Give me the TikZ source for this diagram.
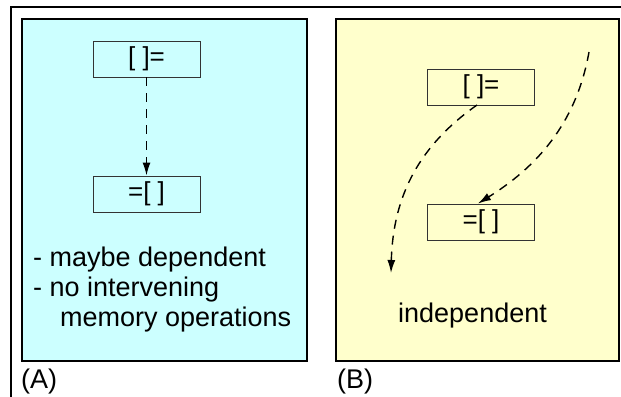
\documentclass[tikz,border=0pt]{standalone}
\usepackage{fontspec}
\setmainfont{Liberation Sans}
\usetikzlibrary{arrows.meta}
\definecolor{panelA}{HTML}{CCFFFF}
\definecolor{panelB}{HTML}{FFFFCC}
\tikzset{
  panel/.style={draw=black, line width=1.6bp},
  membox/.style={draw=black!80, line width=0.9bp, minimum width=107bp, minimum height=36bp, inner sep=0pt, font=\fontsize{26bp}{30bp}\selectfont},
  lbl/.style={inner sep=0pt, font=\fontsize{27bp}{30bp}\selectfont},
  dep/.style={line width=1.4bp, dash pattern=on 9bp off 7bp, -{Latex[length=13bp,width=8bp]}}
}
\begin{document}
\begin{tikzpicture}[x=1bp,y=-1bp]
\useasboundingbox (0,0) rectangle (621,396);
\clip (0,0) rectangle (621,396);
\fill[white] (0,0) rectangle (621,396);
% outer frame
\draw[line width=1.8bp] (11,400) -- (11,7) -- (630,7);
% panels
\draw[panel, fill=panelA] (22,19) rectangle (307,361);
\draw[panel, fill=panelB] (336,19) rectangle (619,361);
% panel A
\node[membox] (a1) at (146.5,59) {[ ]=};
\node[membox] (a2) at (146.5,194) {=[ ]};
\draw[dep] (a1.south) -- (a2.north);
\node[lbl, anchor=base west] (t1) at (33,266) {- maybe dependent};
\node[lbl, anchor=base west] (t2) at (33,296) {- no intervening};
\node[lbl, anchor=base west] (t3) at (60,326) {memory operations};
\node[lbl, anchor=base west] (la) at (21,388) {(A)};
% panel B
\node[membox] (b1) at (481,87) {[ ]=};
\node[membox] (b2) at (481,222) {=[ ]};
\coordinate (c1end) at (391,273);
\coordinate (c2start) at (589,52);
\draw[dep] (477,105) .. controls (420,145) and (393,195) .. (c1end);
\draw[dep] (c2start) .. controls (576,125) and (535,168) .. (b2.north -| 478,0);
\node[lbl, anchor=base west] (ti) at (398,322) {independent};
\node[lbl, anchor=base west] (lb) at (337,388) {(B)};
\end{tikzpicture}
\end{document}
